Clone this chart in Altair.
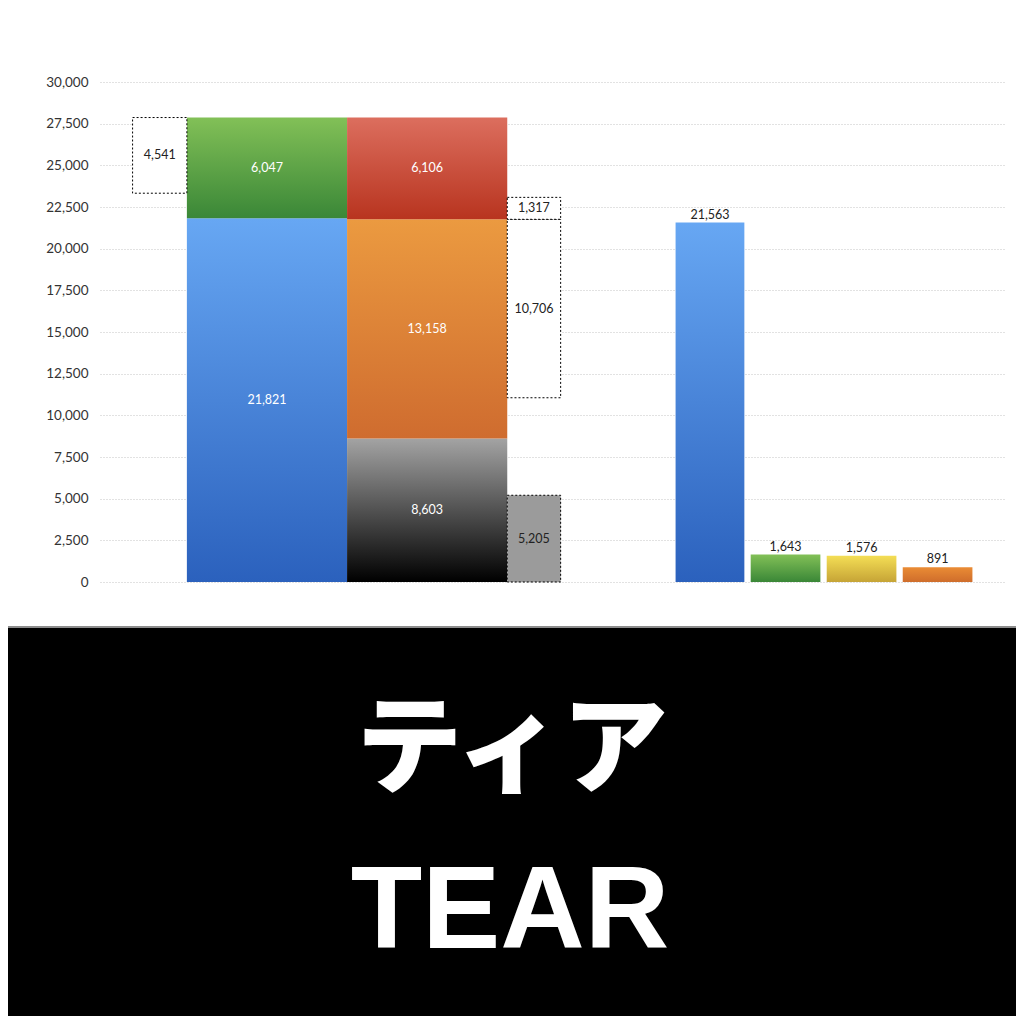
import altair as alt
import pandas as pd

# ---- data ----
stack1_values = [21821, 6047]           # blue, green
stack2_values = [8603, 13158, 6106]     # black, orange, red
left_box_value = 4541
right_box_values = [5205, 10706, 1317]
side_values = [21563, 1643, 1576, 891]
y_ticks = [0, 2500, 5000, 7500, 10000, 12500, 15000, 17500, 20000,
           22500, 25000, 27500, 30000]
title_jp = "ティア"
title_en = "TEAR"

# slot layout along a 0..100 horizontal scale
slot_left_box = (3.6, 9.6)
slot_main1 = (9.6, 27.3)
slot_main2 = (27.3, 45.0)
slot_right_box = (45.0, 50.9)
slot_side = [(63.6, 71.2), (71.9, 79.6), (80.3, 88.0), (88.7, 96.4)]

grad_blue = ("#67a7f3", "#2b61bd")
grad_green = ("#82c057", "#3a8737")
grad_black = ("#a3a3a3", "#000000")
grad_orange = ("#eb9a40", "#cf6c2f")
grad_red = ("#dc6e5e", "#b8341f")
grad_yellow = ("#f4de55", "#c6a436")
grad_orange2 = ("#ea8c34", "#cf6d2c")

W, H = 905, 500
xs = alt.Scale(domain=[0, 100], nice=False)
ys = alt.Scale(domain=[0, 30000], nice=False)
Y_AXIS = alt.Axis(values=y_ticks, format=",d", title=None,
                  labelFontSize=13.5, labelColor="#333333",
                  labelFont="Lato", domain=False, ticks=False,
                  labelPadding=12, grid=True, gridColor="#c4c4c4",
                  gridDash=[1, 2], gridWidth=1)


def X(f):
    return alt.X(f, scale=xs, axis=None)


def Y(f):
    return alt.Y(f, scale=ys, axis=Y_AXIS)


def fmt(v):
    return f"{v:,}"


def grad(c):
    return {"gradient": "linear", "x1": 0, "y1": 0, "x2": 0, "y2": 1,
            "stops": [{"color": c[0], "offset": 0},
                      {"color": c[1], "offset": 1}]}


bars = []  # (x0, x1, y0, y1, label, gradient, label_mode)
cum = 0
for v, g in zip(stack1_values, [grad_blue, grad_green]):
    bars.append((slot_main1[0], slot_main1[1], cum, cum + v, fmt(v), g, "in"))
    cum += v
top1 = cum
cum = 0
for v, g in zip(stack2_values, [grad_black, grad_orange, grad_red]):
    bars.append((slot_main2[0], slot_main2[1], cum, cum + v, fmt(v), g, "in"))
    cum += v
top2_base = stack2_values[0] + stack2_values[1]
for (a, b), v, g in zip(slot_side, side_values,
                        [grad_blue, grad_green, grad_yellow, grad_orange2]):
    bars.append((a, b, 0, v, fmt(v), g, "above"))

boxes = [
    (slot_left_box[0], slot_left_box[1], top1 - left_box_value, top1,
     fmt(left_box_value), "#ffffff"),
    (slot_right_box[0], slot_right_box[1], 0, right_box_values[0],
     fmt(right_box_values[0]), "#9b9b9b"),
    (slot_right_box[0], slot_right_box[1], top2_base - right_box_values[1],
     top2_base, fmt(right_box_values[1]), "#ffffff"),
    (slot_right_box[0], slot_right_box[1], top2_base,
     top2_base + right_box_values[2], fmt(right_box_values[2]), "#ffffff"),
]

layers = []

axis_df = pd.DataFrame({"y": y_ticks, "x": [0] * len(y_ticks)})
layers.append(
    alt.Chart(axis_df).mark_point(opacity=0).encode(x=X("x:Q"), y=Y("y:Q"))
)

for x0, x1, y0, y1, lab, g, mode in bars:
    df = pd.DataFrame({"x0": [x0], "x1": [x1], "y0": [y0], "y1": [y1],
                       "label": [lab], "xm": [(x0 + x1) / 2],
                       "ym": [(y0 + y1) / 2]})
    layers.append(
        alt.Chart(df).mark_bar(fill=grad(g)).encode(
            x=X("x0:Q"), x2="x1:Q", y=Y("y0:Q"), y2="y1:Q")
    )
    if mode == "in":
        layers.append(
            alt.Chart(df).mark_text(color="white", fontSize=12.5, font="Lato").encode(
                x=X("xm:Q"), y=Y("ym:Q"), text="label:N")
        )
    else:
        layers.append(
            alt.Chart(df).mark_text(color="#222222", fontSize=12.5, font="Lato",
                                    baseline="bottom", dy=-1).encode(
                x=X("xm:Q"), y=Y("y1:Q"), text="label:N")
        )

for x0, x1, y0, y1, lab, fill in boxes:
    df = pd.DataFrame({"x0": [x0], "x1": [x1], "y0": [y0], "y1": [y1],
                       "label": [lab], "xm": [(x0 + x1) / 2],
                       "ym": [(y0 + y1) / 2]})
    layers.append(
        alt.Chart(df).mark_rect(fill=fill, stroke="black", strokeWidth=1,
                                strokeDash=[2, 2]).encode(
            x=X("x0:Q"), x2="x1:Q", y=Y("y0:Q"), y2="y1:Q")
    )
    layers.append(
        alt.Chart(df).mark_text(color="#222222", fontSize=12.5, font="Lato").encode(
            x=X("xm:Q"), y=Y("ym:Q"), text="label:N")
    )

# black caption band under the chart
one = pd.DataFrame({"a": [0]})
layers.append(
    alt.Chart(one).mark_rect(fill="black").encode(
        x=alt.value(-100), x2=alt.value(930),
        y=alt.value(546), y2=alt.value(950))
)
layers.append(
    alt.Chart(one).mark_rule(color="#8c8c8c", strokeWidth=2).encode(
        x=alt.value(-100), x2=alt.value(930), y=alt.value(545))
)
cap = pd.DataFrame({"t": [title_jp]})
layers.append(
    alt.Chart(cap).mark_text(color="white", fontSize=106, fontWeight=900,
                             font="Noto Sans CJK JP", baseline="middle",
                             align="center").encode(
        x=alt.value(412), y=alt.value(670), text="t:N")
)
cap2 = pd.DataFrame({"t": [title_en]})
layers.append(
    alt.Chart(cap2).mark_text(color="white", fontSize=117, fontWeight="bold",
                              font="Liberation Sans", baseline="alphabetic",
                              align="center").encode(
        x=alt.value(410), y=alt.value(866), text="t:N")
)

chart = alt.layer(*layers).properties(
    width=W, height=H,
    autosize=alt.AutoSizeParams(type="none"),
    padding={"left": 92, "top": 74, "right": 11, "bottom": 434},
    background="white",
).configure_view(stroke=None)

chart.save("out.html", embed_options={"renderer": "svg", "actions": False})
